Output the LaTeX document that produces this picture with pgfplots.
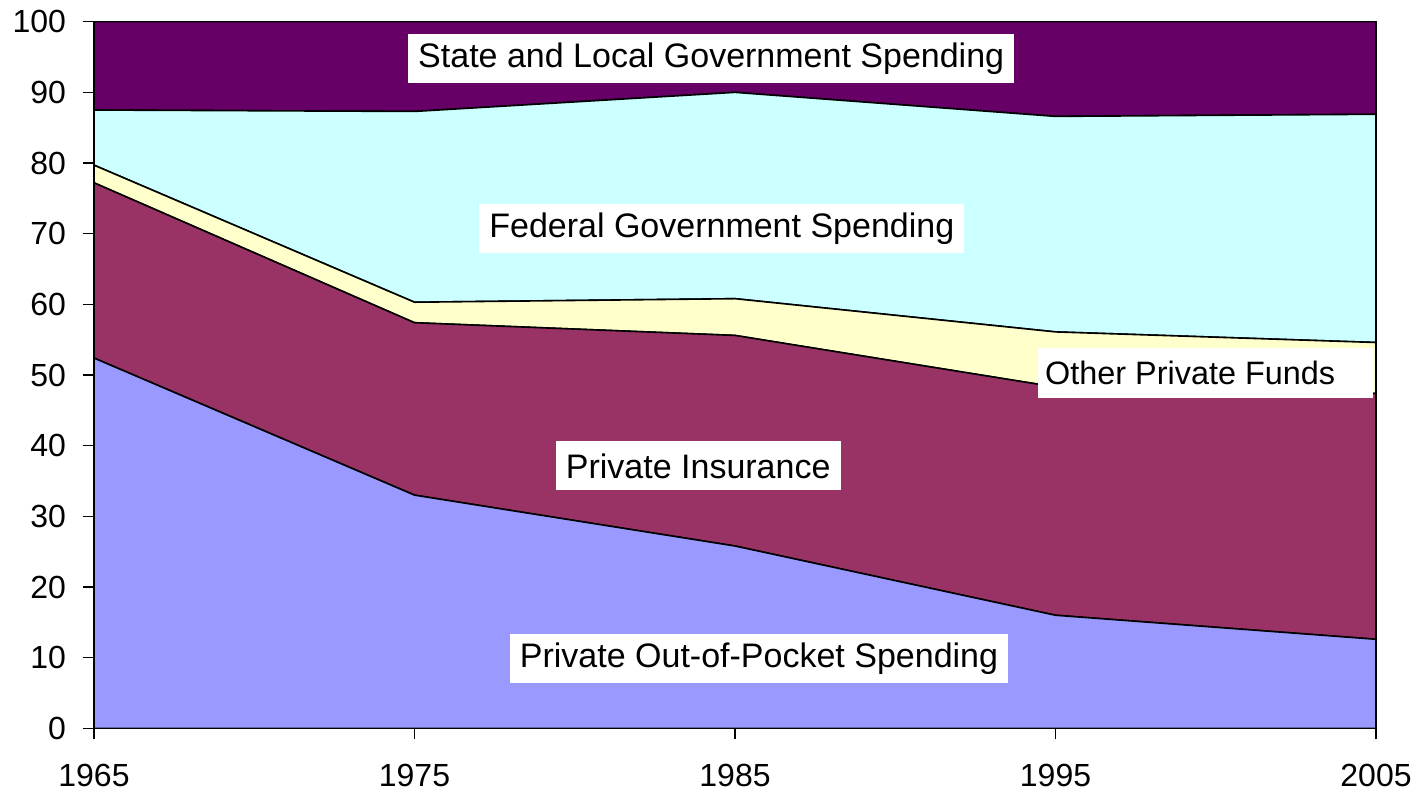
\documentclass[border=0pt]{standalone}
\usepackage{pgfplots}
\pgfplotsset{compat=1.18}
\usepackage{fontspec}
\setmainfont{Liberation Sans}
\definecolor{oop}{HTML}{9999FF}
\definecolor{ins}{HTML}{993366}
\definecolor{oth}{HTML}{FFFFCC}
\definecolor{fed}{HTML}{CCFFFF}
\definecolor{sta}{HTML}{660066}
\tikzset{lbox/.style={fill=white, inner xsep=5pt, inner ysep=0pt, minimum height=24.5pt, font=\fontsize{17}{20}\selectfont}}
\begin{document}
\begin{tikzpicture}
\begin{axis}[
  scale only axis,
  width=641pt, height=353.3pt,
  xmin=1965, xmax=2005, ymin=0, ymax=100,
  xtick={1965,1975,1985,1995,2005},
  ytick={0,10,...,100},
  stack plots=y,
  axis on top,
  axis line style={black, line width=0.75pt},
  tick style={black, line width=0.75pt},
  tick align=outside,
  major tick length=5.5pt,
  xtick pos=bottom, ytick pos=left,
  /pgf/number format/assume math mode=true,
  /pgf/number format/1000 sep={},
  tick label style={font=\fontsize{16}{19}\selectfont, text=black},
  xticklabel style={yshift=-9pt},
  yticklabel style={xshift=-5pt},
]
\addplot[fill=oop, draw=black, line width=0.8pt] coordinates {(1965,52.4) (1975,33.0) (1985,25.8) (1995,16.0) (2005,12.6)} \closedcycle;
\addplot[fill=ins, draw=black, line width=0.8pt] coordinates {(1965,24.8) (1975,24.4) (1985,29.8) (1995,32.3) (2005,34.8)} \closedcycle;
\addplot[fill=oth, draw=black, line width=0.8pt] coordinates {(1965,2.5) (1975,2.9) (1985,5.2) (1995,7.8) (2005,7.2)} \closedcycle;
\addplot[fill=fed, draw=black, line width=0.8pt] coordinates {(1965,7.8) (1975,27.0) (1985,29.2) (1995,30.5) (2005,32.3)} \closedcycle;
\addplot[fill=sta, draw=black, line width=0.8pt] coordinates {(1965,12.5) (1975,12.7) (1985,10.0) (1995,13.4) (2005,13.1)} \closedcycle;
\end{axis}
\node[lbox] at (308.6pt,335.0pt) {State and Local Government Spending};
\node[lbox] at (313.9pt,249.8pt) {Federal Government Spending};
\node[lbox, anchor=west, inner xsep=3.5pt, minimum height=25pt, font=\fontsize{16.2}{19}\selectfont] at (471.9pt,177.9pt) {\makebox[160.5pt][l]{Other Private Funds}};
\node[lbox] at (302.1pt,131.2pt) {Private Insurance};
\node[lbox] at (332.5pt,34.9pt) {Private Out-of-Pocket Spending};
\pgfresetboundingbox
\path[use as bounding box] (-47pt,-32.35pt) rectangle (661pt,364.15pt);
\end{tikzpicture}
\end{document}
